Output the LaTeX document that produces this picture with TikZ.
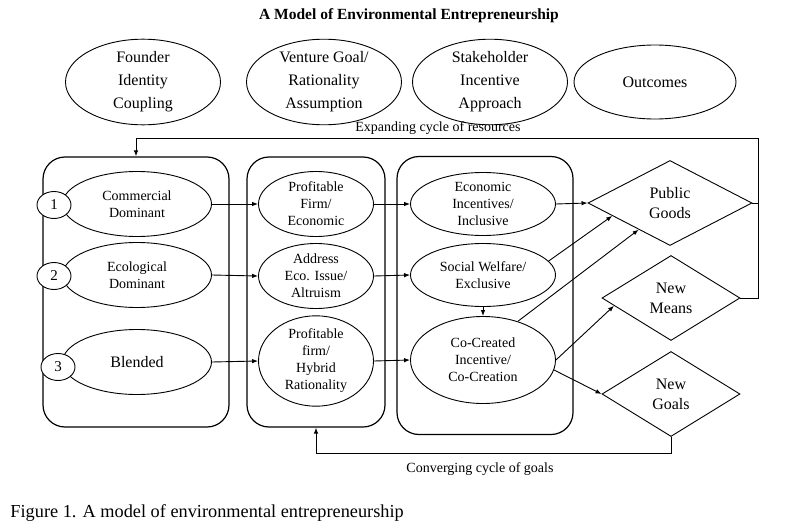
\documentclass[tikz,border=0pt]{standalone}
\usepackage{fontspec}
\setmainfont{Liberation Serif}
\usetikzlibrary{shapes.geometric,arrows.meta,calc}
\begin{document}
\begin{tikzpicture}[x=1pt,y=-1pt,
  line width=0.9pt,
  ell/.style={draw, ellipse, inner sep=0pt, align=center, fill=white},
  topell/.style={ell, minimum width=155pt, minimum height=74pt, font=\fontsize{16}{23}\selectfont},
  midell/.style={ell, minimum width=149pt, minimum height=65pt, font=\fontsize{14}{17}\selectfont},
  narell/.style={ell, minimum width=115pt, minimum height=65pt, font=\fontsize{14}{17}\selectfont},
  rigell/.style={ell, minimum width=145pt, minimum height=63pt, font=\fontsize{14}{17}\selectfont},
  numcirc/.style={ell, minimum width=34pt, minimum height=27pt, font=\fontsize{15}{16}\selectfont},
  box/.style={draw, rounded corners=22pt, line width=1.2pt, inner sep=0pt},
  dia/.style={draw, diamond, inner sep=0pt, align=center, font=\fontsize{16}{20}\selectfont},
  arr/.style={-{Latex[length=6pt,width=4.5pt]}},
  lbl/.style={font=\fontsize{14}{16}\selectfont, inner sep=0pt}
]
\useasboundingbox (0,0) rectangle (785,530);

% title
\node[font=\bfseries\fontsize{15.5}{18}\selectfont, inner sep=0pt] (title) at (409,16) {A Model of Environmental Entrepreneurship};

% top row
\node[topell] (fic) at (143,82) {Founder\\Identity\\Coupling};
\node[topell] (vg) at (324,82) {Venture Goal/\\Rationality\\Assumption};
\node[topell] (sia) at (490,82) {Stakeholder\\Incentive\\Approach};
\node[topell, minimum width=162pt] (out) at (655,82) {Outcomes};

% boxes
\node[box, minimum width=186pt, minimum height=270pt] (b1) at (136,292) {};
\node[box, minimum width=138pt, minimum height=270pt] (b2) at (316,292) {};
\node[box, minimum width=176pt, minimum height=278pt] (b3) at (485,295.5) {};

% column 1
\node[midell] (cd) at (137,204) {Commercial\\Dominant};
\node[midell] (ed) at (137,275) {Ecological\\Dominant};
\node[midell, font=\fontsize{16}{20}\selectfont] (bl) at (137,362) {Blended};
\node[numcirc] (n1) at (54,205) {1};
\node[numcirc] (n2) at (54,276) {2};
\node[numcirc] (n3) at (58,367) {3};

% column 2
\node[narell] (pf) at (316,204) {Profitable\\Firm/\\Economic};
\node[narell] (ae) at (316,276) {Address\\Eco. Issue/\\Altruism};
\node[narell, minimum height=87pt] (ph) at (316,361) {Profitable\\firm/\\Hybrid\\Rationality};

% column 3
\node[rigell] (ei) at (483,204) {Economic\\Incentives/\\Inclusive};
\node[rigell] (sw) at (483,275) {Social Welfare/\\Exclusive};
\node[rigell, minimum height=87pt] (cc) at (483,360) {Co-Created\\Incentive/\\Co-Creation};

% outcomes
\node[dia, minimum width=164pt, minimum height=85pt] (pg) at (670,203) {Public\\Goods};
\node[dia, minimum width=138pt, minimum height=85pt] (nm) at (671,298) {New\\Means};
\node[dia, minimum width=138pt, minimum height=85pt] (ng) at (671,394) {New\\Goals};

% connectors
\draw[arr] (cd.east) -- (pf.west);
\draw[arr] (ed.east) -- (ae.west);
\draw[arr] (bl.east) -- (ph.west);
\draw[arr] (pf.east) -- (ei.west);
\draw[arr] (ae.east) -- (sw.west);
\draw[arr] (ph.east) -- (cc.west);
\draw[arr] (sw.south) -- (cc.north);
\draw[arr] (ei.east) -- (pg.west);
\draw[arr] (sw.12) -- ($(pg.west)!0.3!(pg.south)$);
\draw[arr] (cc.48) -- ($(pg.west)!0.62!(pg.south)$);
\draw[arr] (cc.east) -- ($(nm.west)!0.18!(nm.south)$);
\draw[arr] (cc.-8) -- (ng.west);

% cycles
\coordinate (er) at (758,138);
\draw (pg.east) -| (er);
\draw[arr] (nm.east) -| (er) -| (b1.north);
\coordinate (cr) at (671,453);
\draw[arr] (ng.south) -- (cr) -| (b2.south);

\node[lbl] (exp) at (438,128) {Expanding cycle of resources};
\node[lbl] (conv) at (480,469) {Converging cycle of goals};

% caption
\node[anchor=west, inner sep=0pt, font=\fontsize{18.3}{21}\selectfont] (cap) at (10,513) {Figure 1. A model of environmental entrepreneurship};
\end{tikzpicture}
\end{document}
